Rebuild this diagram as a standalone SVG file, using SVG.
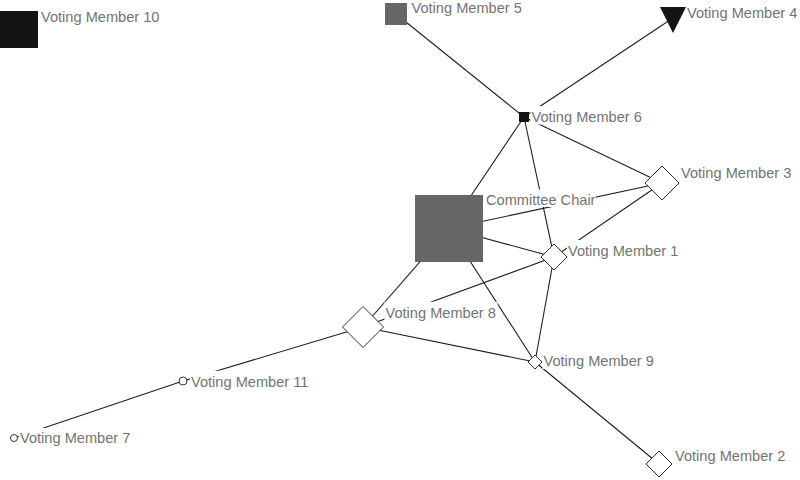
<svg xmlns="http://www.w3.org/2000/svg" width="800" height="480" viewBox="0 0 800 480">
<style>
.e{stroke:#1e1e1e;stroke-width:1.1;fill:none}
.bg{fill:#fff}
.t{font-family:"Liberation Sans",Arial,sans-serif;font-size:14.6px;fill:#737373}
.d{fill:#fff;stroke:#333;stroke-width:1}
.dk{fill:#141414}
.gr{fill:#666}
</style>
<rect width="800" height="480" fill="#fff"/>
<g id="connectors">
<line class="e" x1="396" y1="14" x2="524" y2="117"/>
<line class="e" x1="673" y1="18" x2="524" y2="117"/>
<line class="e" x1="524" y1="117" x2="449" y2="228.5"/>
<line class="e" x1="524" y1="117" x2="554" y2="257"/>
<line class="e" x1="524" y1="117" x2="662" y2="183"/>
<line class="e" x1="449" y1="228.5" x2="662" y2="183"/>
<line class="e" x1="449" y1="228.5" x2="554" y2="257"/>
<line class="e" x1="449" y1="228.5" x2="363" y2="327"/>
<line class="e" x1="449" y1="228.5" x2="535" y2="362"/>
<line class="e" x1="554" y1="257" x2="662" y2="183"/>
<line class="e" x1="554" y1="257" x2="363" y2="327"/>
<line class="e" x1="554" y1="257" x2="535" y2="362"/>
<line class="e" x1="363" y1="327" x2="535" y2="362"/>
<line class="e" x1="363" y1="327" x2="183" y2="381"/>
<line class="e" x1="183" y1="381" x2="14" y2="438"/>
<line class="e" x1="535" y1="362" x2="659" y2="464"/>
</g>
<g id="vm10">
<rect class="dk" x="0" y="11" width="38" height="37"/>
<rect class="bg" x="40" y="6.5" width="121" height="18.5"/>
<text class="t" x="41" y="22">Voting Member 10</text>
</g>
<g id="vm5">
<rect class="gr" x="385" y="3" width="22" height="22"/>
<rect class="bg" x="410.5" y="-3" width="113" height="18.5"/>
<text class="t" x="411.5" y="12.5">Voting Member 5</text>
</g>
<g id="vm4">
<polygon class="dk" points="660,7 686,7 673,33"/>
<rect class="bg" x="686" y="2" width="113" height="18.5"/>
<text class="t" x="687" y="17.5">Voting Member 4</text>
</g>
<g id="vm6">
<rect class="dk" x="519" y="112" width="10" height="10"/>
<rect class="bg" x="530.5" y="106" width="113" height="18.5"/>
<text class="t" x="531.5" y="121.5">Voting Member 6</text>
</g>
<g id="vm3">
<polygon class="d" points="662,166 679,183 662,200 645,183"/>
<rect class="bg" x="680" y="162" width="113" height="18.5"/>
<text class="t" x="681" y="177.5">Voting Member 3</text>
</g>
<g id="chair">
<rect class="gr" x="415" y="195" width="68" height="67"/>
<rect class="bg" x="485" y="189.5" width="111" height="17.5"/>
<text class="t" x="486" y="204.5">Committee Chair</text>
</g>
<g id="vm1">
<polygon class="d" points="554,244 567,257 554,270 541,257"/>
<rect class="bg" x="567" y="240" width="113" height="18.5"/>
<text class="t" x="568" y="255.5">Voting Member 1</text>
</g>
<g id="vm8">
<polygon class="d" points="363,306.5 383.5,327 363,347.5 342.5,327"/>
<rect class="bg" x="384.5" y="301.8" width="113" height="18.5"/>
<text class="t" x="385.5" y="317.5">Voting Member 8</text>
</g>
<g id="vm9">
<polygon class="d" points="535,355 542,362 535,369 528,362"/>
<rect class="bg" x="542.5" y="350.5" width="113" height="18.5"/>
<text class="t" x="543.5" y="366">Voting Member 9</text>
</g>
<g id="vm11">
<circle class="d" cx="183" cy="381" r="4"/>
<rect class="bg" x="190" y="370.8" width="121" height="18.5"/>
<text class="t" x="191" y="386.5">Voting Member 11</text>
</g>
<g id="vm7">
<circle class="d" cx="14" cy="438" r="3.5"/>
<rect class="bg" x="19" y="428" width="113" height="18.5"/>
<text class="t" x="20" y="443">Voting Member 7</text>
</g>
<g id="vm2">
<polygon class="d" points="659,451 672,464 659,477 646,464"/>
<rect class="bg" x="674" y="445" width="113" height="18.5"/>
<text class="t" x="675" y="460.5">Voting Member 2</text>
</g>
</svg>
